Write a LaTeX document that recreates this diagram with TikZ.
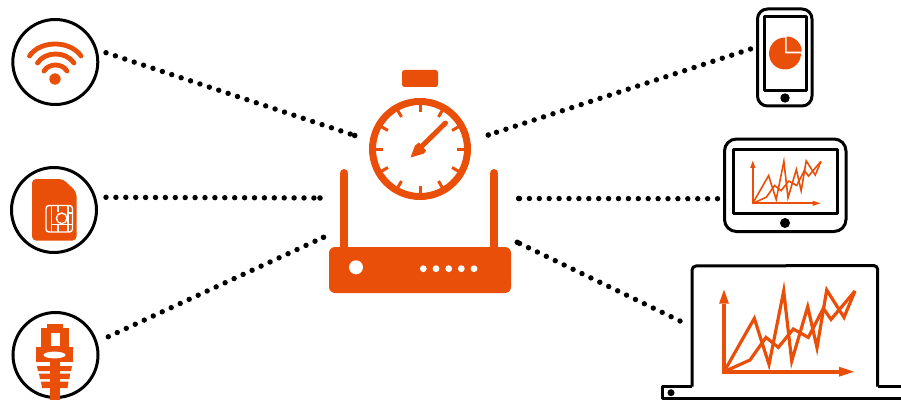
\documentclass[tikz,border=0pt]{standalone}
\definecolor{brand}{HTML}{EA4F0A}
\tikzset{
  ring/.style={circle,draw=black,line width=3pt,minimum size=85pt,inner sep=0pt,fill=white},
  dotline/.style={draw=black,line width=5.4pt,line cap=round,dash pattern=on 0pt off 9.9pt},
  outline/.style={draw=black,line width=3pt,line join=round},
  wave/.style={draw=brand,line width=4.8pt,line cap=round},
  solid brand/.style={fill=brand,draw=none},
  chartline/.style={draw=brand,line join=miter,line width=#1},
  cardwhite/.style={draw=white,line width=1.4pt},
  antenna/.style={draw=brand,line width=8.4pt,line cap=round}
}
\newcommand{\chartdraw}[2]{%
  \draw[chartline=#1] (0,0) -- (30.3,-53.3) -- (45,-7.3) -- (59.7,-80.7) -- (67.7,-10.7) -- (83.7,-65) -- (93,-24) -- (102.7,-81.7) -- (120,-54.3) -- (131,-80.7);
  \draw[chartline=#1] (0,0) -- (26,-11.7) -- (42,-34.3) -- (54.3,-24.3) -- (69.3,-42.7) -- (84.3,-34.3) -- (99.3,-63.3) -- (107,-52.3) -- (131,-80.7);
  \draw[draw=brand,line width=#2] (0,2) -- (0,-68);
  \draw[draw=brand,line width=#2] (-2,0) -- (117,0);
  \fill[brand] (-5,-68) -- (5,-68) -- (0,-82) -- cycle;
  \fill[brand] (115,-5) -- (130,0) -- (115,5) -- cycle;
}
\newcommand{\finaldot}[1]{\fill[black] (#1) circle (2.8);}
\begin{document}
\begin{tikzpicture}[x=1pt,y=-1pt]
\useasboundingbox (0,0) rectangle (901,401);
% named connector ends
\coordinate (w1) at (106,52.7);   \coordinate (h1) at (354.7,135.5);
\coordinate (s1) at (106,197.3);  \coordinate (h2) at (320,198);
\coordinate (e1) at (108.3,336.7);\coordinate (h3) at (323.5,237.3);
\coordinate (p1) at (750.5,49);   \coordinate (h4) at (488.3,135);
\coordinate (t1) at (717.5,198.7);\coordinate (h5) at (518.7,198.5);
\coordinate (l1) at (680,321);    \coordinate (h6) at (517.3,242.3);
\path[dotline] (w1) -- (h1);
\path[dotline] (s1) -- (h2);
\path[dotline] (e1) -- (h3);
\path[dotline] (p1) -- (h4);
\path[dotline] (t1) -- (h5);
\path[dotline] (l1) -- (h6);
\finaldot{h1}\finaldot{h2}\finaldot{h3}\finaldot{h4}\finaldot{h5}\finaldot{h6}

% wifi
\node[ring] (wifi) at (55.3,62) {};
\draw[wave] (29.5,56) .. controls (40,40) and (70,40) .. (81,56);
\draw[wave] (37.5,63) .. controls (45,51) and (66,51) .. (74,63);
\draw[wave] (44,71) .. controls (49,63) and (62,63) .. (67,71);
\fill[brand] (55,79) circle (5.7);

% sim
\node[ring] (sim) at (54,210) {};
\fill[brand,rounded corners=4pt] (32,179) -- (63,179) -- (76.5,192) -- (76.5,240.5) -- (32,240.5) -- cycle;
\draw[cardwhite,rounded corners=3pt] (46,205.5) rectangle (72.5,232);
\draw[cardwhite] (51.7,205.5) -- (51.7,232) (68,205.5) -- (68,232);
\draw[cardwhite] (51.7,224.3) -- (68,224.3);
\draw[cardwhite] (58,205.5) -- (58,212) (58,224.3) -- (58,232);
\draw[cardwhite] (68,213) -- (72.5,213) (68,224.3) -- (72.5,224.3);
\draw[cardwhite,fill=brand] (61.7,218.3) circle (5.3);

% ethernet
\node[ring] (eth) at (55.5,355) {};
\fill[brand] (47,324) rectangle (63,329);
\fill[brand] (41,328) rectangle (68.5,348);
\fill[white] (51,333) rectangle (60,346);
\fill[brand] (36,347) -- (73,347) -- (73,362) -- (36,362) -- cycle;
\fill[white] (54.5,355) ellipse (11 and 3.4);
\fill[brand] (37,366) -- (72,366) -- (71,371) -- (38,371) -- cycle;
\fill[brand] (39,373.5) -- (70,373.5) -- (69.5,379) -- (40,379) -- cycle;
\fill[brand] (41,381.5) -- (68.5,381.5) -- (67.5,388) -- (42,388) -- cycle;
\fill[brand] (50,362) rectangle (59.5,400);

% stopwatch
\node[solid brand,rounded corners=2.5pt,minimum width=36pt,minimum height=17pt,inner sep=0pt] (cap) at (420,78.5) {};
\node[circle,draw=brand,line width=7pt,minimum size=95pt,inner sep=0pt] (watch) at (420,149) {};
\begin{scope}[shift={(420,149)}]
  \foreach \a in {0,30,...,330} \draw[brand,line width=3pt] (\a:37) -- (\a:45);
\end{scope}
\draw[brand,line width=5pt,line cap=round] (419,149) -- (445.5,123);
\fill[brand] (410.5,157.5) -- (415,145.5) -- (419,142.5) -- (426,150.5) -- (424,153.5) -- cycle;

% router
\draw[antenna] (344.2,173.2) -- (344.2,250);
\draw[antenna] (494.2,173.2) -- (494.2,250);
\node[solid brand,rounded corners=6pt,minimum width=182pt,minimum height=46pt,inner sep=0pt] (router) at (420,270) {};
\fill[white] (356,267.3) circle (7);
\foreach \x in {423.3,436,448.7,461.3,474} \fill[white] (\x,268.7) circle (3.4);

% phone
\draw[outline,rounded corners=10pt] (757.5,9) rectangle (812,106);
\draw[outline] (764.5,16.5) rectangle (806,91);
\fill[black] (785,98) circle (4.7);
\fill[brand] (785,53.5) -- (785,37.5) arc[start angle=-90,end angle=-360,radius=16] -- cycle;
\fill[brand] (786.7,51.7) -- (786.7,36.5) arc[start angle=-90,end angle=0,radius=15] -- cycle;

% tablet
\draw[outline,rounded corners=12pt] (724.5,139) rectangle (846,231.5);
\draw[outline] (733.5,149.5) rectangle (837,213);
\fill[black] (785,223) circle (5);
\begin{scope}[shift={(752.8,203.3)},scale=0.52]
  \chartdraw{1.6pt}{2pt}
\end{scope}

% laptop
\draw[outline,rounded corners=4pt] (692,386.5) -- (692,266) -- (877.7,265.5) -- (877.7,386.5);
\draw[outline] (692,386.5) -- (662.5,386.5) -- (662.5,398.3) -- (901,398.3);
\draw[outline] (877.7,386.5) -- (901,386.5);
\fill[black] (671,392.7) circle (3.5);
\begin{scope}[shift={(724,371.7)}]
  \chartdraw{3.2pt}{3.6pt}
\end{scope}
\end{tikzpicture}
\end{document}
